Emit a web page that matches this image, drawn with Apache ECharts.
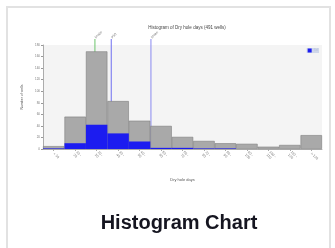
<!DOCTYPE html>
<html>
<head>
<meta charset="utf-8">
<script src="https://cdn.jsdelivr.net/npm/echarts@6/dist/echarts.min.js"></script>
<style>
    html, body {margin: 0; padding: 0; background: #fff;}
    #card {position: absolute; left: 6px; top: 6px; width: 325px; height: 270px; border: 2px solid #e2e2e2; box-sizing: border-box;}
    #my_chart {position: absolute; left: 0; top: 0; width: 335px; height: 248px;}
</style>
</head>
<body>
<div id="card"></div>
<div id="my_chart"></div>
<script>
// bins of dry hole days
var categories = ['< 10', '10 -\n20', '20 -\n30', '30 -\n40', '40 -\n50', '50 -\n60', '60 -\n70',
    '70 -\n80', '80 -\n90', '90 -\n100', '100 -\n110', '110 -\n120', '> 120'];
var allWells = [5, 56, 169, 83, 49, 40, 21, 14, 10, 9, 4, 7, 24];
var selWells = [1, 10, 42, 27, 13, 2, 2, 1, 1, 0, 0, 0, 0];
var yTicks = [0, 20, 40, 60, 80, 100, 120, 140, 160, 180];
// statistic lines: [position in bins, label, colour]
var statLines = [[2.42, 'Mode', '#6cc46c'], [3.18, 'P50', '#6f6ff0'], [5.03, 'Mean', '#8a8af0']];

var myChart = echarts.init(document.getElementById('my_chart'));

var option = {
    animation: false,
    title: [
        {
            text: 'Histogram of Dry hole days (491 wells)',
            left: 182, top: 20, textAlign: 'center',
            textStyle: {fontSize: 4.5, fontWeight: 'normal', color: '#444', fontFamily: 'Arial'}
        },
        {
            text: 'Histogram Chart',
            left: 174, top: 208, textAlign: 'center',
            textStyle: {fontSize: 20, fontWeight: 'bold', color: '#151520', fontFamily: 'Liberation Sans'}
        }
    ],
    legend: {
        data: ['Selected'],
        right: 16, top: 48,
        itemWidth: 4, itemHeight: 4, itemGap: 1,
        padding: [0.5, 1],
        backgroundColor: '#cfd7ea',
        formatter: 'Sel',
        textStyle: {fontSize: 3, color: '#b8c2da', padding: [0, 0, 0, -3]},
        icon: 'rect'
    },
    grid: {
        left: 43, right: 13, top: 45, bottom: 99,
        show: true, backgroundColor: '#f4f4f4', borderWidth: 0
    },
    xAxis: [
        {
            type: 'category',
            data: categories,
            name: 'Dry hole days',
            nameLocation: 'middle',
            nameGap: 29,
            nameTextStyle: {fontSize: 4, color: '#555'},
            axisLine: {lineStyle: {color: '#999', width: 0.8}},
            axisTick: {show: true, alignWithLabel: true, length: 2, lineStyle: {color: '#aaa'}},
            axisLabel: {interval: 0, rotate: -45, fontSize: 3.5, lineHeight: 4, color: '#777', margin: 4}
        },
        {
            type: 'value', min: 0, max: 13, show: false
        }
    ],
    yAxis: {
        type: 'value',
        min: yTicks[0], max: yTicks[yTicks.length - 1], interval: yTicks[1] - yTicks[0],
        name: 'Number of wells',
        nameLocation: 'middle',
        nameGap: 17,
        nameTextStyle: {fontSize: 3.5, color: '#555'},
        axisLine: {show: true, lineStyle: {color: '#999', width: 0.8}},
        axisTick: {show: true, length: 2, lineStyle: {color: '#999'}},
        axisLabel: {fontSize: 3, color: '#777', margin: 3},
        splitLine: {show: false}
    },
    series: [
        {
            type: 'custom',
            xAxisIndex: 1,
            z: 1,
            clip: false,
            data: statLines,
            renderItem: function (params, api) {
                var x = api.value(0);
                var top = api.coord([x, yTicks[yTicks.length - 1]]);
                var bot = api.coord([x, 0]);
                var col = statLines[params.dataIndex][2];
                return {
                    type: 'group',
                    children: [
                        {
                            type: 'line',
                            shape: {x1: top[0], y1: top[1] - 6, x2: bot[0], y2: bot[1]},
                            style: {stroke: col, lineWidth: 1}
                        },
                        {
                            type: 'text',
                            x: top[0] + 0.5, y: top[1] - 7,
                            rotation: Math.PI / 4,
                            style: {text: statLines[params.dataIndex][1], fontSize: 3.5, fill: '#777',
                                align: 'left', verticalAlign: 'middle'}
                        }
                    ]
                };
            }
        },
        {
            type: 'bar',
            name: 'All wells',
            data: allWells,
            z: 2,
            barCategoryGap: 0,
            barGap: '-100%',
            itemStyle: {color: '#a9a9a9', borderColor: '#808080', borderWidth: 0.6}
        },
        {
            type: 'bar',
            name: 'Selected',
            data: selWells,
            z: 3,
            barCategoryGap: 0,
            barGap: '-100%',
            itemStyle: {color: '#1c1cf0'}
        }
    ]
};

myChart.setOption(option);
</script>
</body>
</html>
